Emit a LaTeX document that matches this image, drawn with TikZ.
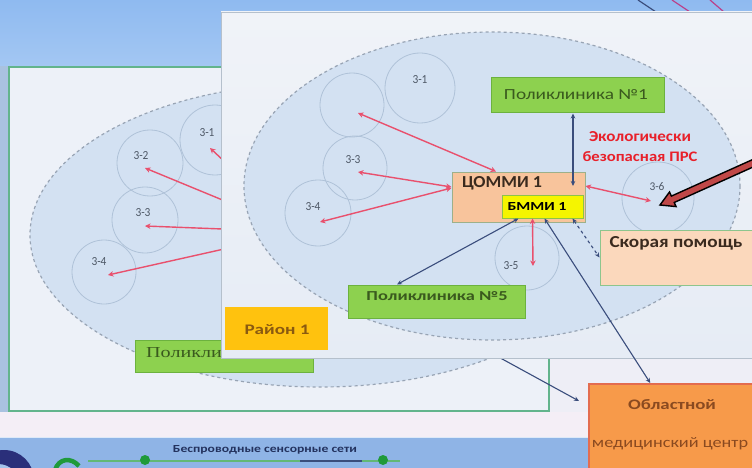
\documentclass[tikz,border=0pt]{standalone}
\usepackage{fontspec}
\setmainfont{Carlito}
\newfontfamily\serifcyr{Liberation Serif}
\usetikzlibrary{arrows.meta,calc}
\newcommand\fitw[3]{\resizebox{#1pt}{#2pt}{#3}}
\definecolor{bgblue}{HTML}{8FBAF0}
\definecolor{bgblue2}{HTML}{A3C7F3}
\definecolor{paleBg}{HTML}{EEEEF6}
\definecolor{pinkBg}{HTML}{F4EEF6}
\definecolor{stripblue}{HTML}{A9C2E0}
\definecolor{botblue}{HTML}{8FB4E6}
\definecolor{panelgreen}{HTML}{62B48C}
\definecolor{panelfill}{HTML}{EDF1F8}
\definecolor{frontfill}{HTML}{E6ECF5}
\definecolor{frontfilltop}{HTML}{F0F3F8}
\definecolor{frontline}{HTML}{B5C0CC}
\definecolor{ellfill}{HTML}{D3E1F2}
\definecolor{elline}{HTML}{98A4B4}
\definecolor{zoneline}{HTML}{AFC2D8}
\definecolor{labgray}{HTML}{4E5866}
\definecolor{greenfill}{HTML}{8DD14F}
\definecolor{greenline}{HTML}{6CB23E}
\definecolor{greentext}{HTML}{3A5A1E}
\definecolor{commifill}{HTML}{F8C49C}
\definecolor{commiline}{HTML}{9DB08A}
\definecolor{bmmifill}{HTML}{F5F500}
\definecolor{bmmiline}{HTML}{8CC34A}
\definecolor{skorfill}{HTML}{FBD8BC}
\definecolor{skorline}{HTML}{8DC58D}
\definecolor{darktext}{HTML}{3A2A1E}
\definecolor{raionfill}{HTML}{FFC20E}
\definecolor{raiontext}{HTML}{8A5A10}
\definecolor{oblfill}{HTML}{F79A4A}
\definecolor{oblline}{HTML}{E36C4F}
\definecolor{obltext}{HTML}{8A4A20}
\definecolor{ecored}{HTML}{E8202A}
\definecolor{redline}{HTML}{E9506D}
\definecolor{navy}{HTML}{3A4D7C}
\definecolor{titlenavy}{HTML}{23325E}
\definecolor{logonavy}{HTML}{2A2F7A}
\definecolor{deco}{HTML}{1F9A3A}
\definecolor{bigarrow}{HTML}{C04848}
\begin{document}
\begin{tikzpicture}[x=1pt,y=-1pt,
  zone/.style={circle,draw=zoneline,line width=0.8pt,inner sep=0pt},
  zlab/.style={inner sep=0pt,text=labgray},
  gbox/.style={rectangle,draw=greenline,fill=greenfill,line width=1pt,inner sep=0pt},
  txt/.style={inner sep=0pt},
  ell/.style={draw=elline,fill=ellfill,line width=1.2pt,dash pattern=on 3pt off 3pt},
  redl/.style={draw=redline,line width=1.4pt,>={Stealth[length=5.5pt,width=5.5pt]},<->},
  redend/.style={draw=redline,line width=1.4pt,>={Stealth[length=5.5pt,width=5.5pt]},<-},
  navl/.style={draw=navy,line width=1.1pt,>={Stealth[length=5pt,width=4.5pt]},<->},
  navend/.style={draw=navy,line width=1.1pt,>={Stealth[length=5pt,width=4.5pt]},->}]
\useasboundingbox (0,0) rectangle (752,468);
\clip (0,0) rectangle (752,468);
% ---------- background ----------
\fill[paleBg] (0,0) rectangle (752,468);
\shade[top color=bgblue, bottom color=bgblue2] (0,0) rectangle (752,66);
\fill[stripblue] (0,66) rectangle (8,420);
\fill[pinkBg] (0,412) rectangle (752,437);
\fill[botblue] (0,437) rectangle (752,468);
\draw[white!70!botblue, line width=1pt] (0,437.5) -- (752,437.5);
\fill[logonavy] (4,480) circle [radius=30];
\fill[botblue!80!white] (-2,486) circle [radius=22];
\node[txt, text=titlenavy] (btitle) at (265,450) {\fitw{184}{7}{\bfseries Беспроводные сенсорные сети}};
\draw[deco!70!white, line width=1.5pt] (88,461) -- (300,461);
\draw[navy, line width=1.2pt] (300,461) -- (362,461);
\draw[deco!70!white, line width=1.5pt] (362,461) -- (400,461);
\fill[deco] (145,460) circle [radius=5];
\fill[deco] (383,460) circle [radius=5];
\draw[deco, line width=4.5pt] (55,470) .. controls (59,458) and (71,457) .. (79,466);
\draw[navy, line width=1.2pt] (638,0) -- (656,12);
\draw[redline!80!blue, line width=1.2pt] (672,0) -- (690,12);
\draw[redline!80!blue, line width=1.2pt] (710,0) -- (724,12);
% ---------- back panel ----------
\draw[draw=panelgreen, line width=2pt, fill=panelfill] (9,67) rectangle (549,411);
\begin{scope}
  \clip (10,68) rectangle (548,410);
  \draw[ell] (320,235) ellipse [x radius=290, y radius=152];
\end{scope}
\node[zone, minimum size=70pt] (l31) at (215,140) {};
\node[zone, minimum size=66pt] (l32) at (150,163) {};
\node[zone, minimum size=66pt] (l33) at (145,220) {};
\node[zone, minimum size=64pt] (l34) at (104,272) {};
\node[zlab] (l31t) at (207,133) {\fitw{15}{8}{3-1}};
\node[zlab] (l32t) at (141,156) {\fitw{15}{8}{3-2}};
\node[zlab] (l33t) at (143,213) {\fitw{15}{8}{3-3}};
\node[zlab] (l34t) at (99,262) {\fitw{15}{8}{3-4}};
\coordinate (ld31) at (210,148);
\coordinate (ld32) at (145,168);
\coordinate (ld33) at (145,226);
\coordinate (ld34) at (108,275);
\coordinate (lhub) at (300,232);
\coordinate (lbmmi) at (440,325);
\coordinate (lend) at (579,401);
\draw[redend] (ld31) -- (lhub);
\draw[redend] (ld32) -- (lhub);
\draw[redend] (ld33) -- (lhub);
\draw[redend] (ld34) -- (lhub);
\node[gbox, minimum width=178pt, minimum height=32pt] (lpol) at (224,356) {};
\node[txt, anchor=west, text=greentext] (lpolt) at (146,353) {\fitw{150}{10}{\serifcyr Поликлиника №5}};
\draw[navend] (lbmmi) -- (lend);
% ---------- front panel ----------
\shade[top color=frontfilltop, bottom color=frontfill] (221,12) rectangle (760,358);
\draw[frontline, line width=0.8pt] (760,12) -- (221,12) -- (221,358) -- (760,358);
\begin{scope}
  \clip (222,13) rectangle (760,357);
  \draw[ell] (492,186) ellipse [x radius=248, y radius=154];
\end{scope}
\node[zone, minimum size=64pt] (fA) at (352,105) {};
\node[zone, minimum size=70pt] (f31) at (420,88) {};
\node[zone, minimum size=64pt] (f33) at (355,168) {};
\node[zone, minimum size=66pt] (f34) at (318,213) {};
\node[zone, minimum size=64pt] (f35) at (527,258) {};
\node[zone, minimum size=72pt] (f36) at (658,198) {};
\node[zlab] (f31t) at (420,80) {\fitw{15}{8}{3-1}};
\node[zlab] (f33t) at (353,160) {\fitw{15}{8}{3-3}};
\node[zlab] (f34t) at (313,207) {\fitw{15}{8}{3-4}};
\node[zlab] (f35t) at (511,266) {\fitw{15}{8}{3-5}};
\node[zlab] (f36t) at (657,187) {\fitw{15}{8}{3-6}};
\coordinate (dA) at (358,113);
\coordinate (d33) at (358,172);
\coordinate (d34) at (320,222);
\coordinate (d35) at (533,266);
\coordinate (d36) at (651,201);
% boxes
\node[gbox, minimum width=173pt, minimum height=35pt] (pol1) at (577.5,95.5) {};
\node[txt, text=greentext] (pol1t) at (576,95) {\fitw{144}{10}{Поликлиника №1}};
\node[rectangle, draw=commiline, fill=commifill, line width=1pt, inner sep=0pt, minimum width=133pt, minimum height=50pt] (commi) at (518.5,197) {};
\node[txt, text=darktext] (commit) at (502,183) {\fitw{80}{11}{\bfseries ЦОММИ 1}};
\node[rectangle, draw=bmmiline, fill=bmmifill, line width=1pt, inner sep=0pt, minimum width=81pt, minimum height=23pt] (bmmi) at (542.5,206.5) {};
\node[txt, text=black] (bmmit) at (537,206) {\fitw{59}{8}{\bfseries БММИ 1}};
\node[txt, text=ecored] (eco1) at (640,137) {\fitw{102}{10}{\bfseries Экологически}};
\node[txt, text=ecored] (eco2) at (640,157) {\fitw{115}{10}{\bfseries безопасная ПРС}};
\node[rectangle, draw=skorline, fill=skorfill, line width=1pt, inner sep=0pt, minimum width=160pt, minimum height=55pt] (skor) at (680,257.5) {};
\node[txt, text=darktext] (skort) at (676,243) {\fitw{133}{11}{\bfseries Скорая помощь}};
\node[gbox, minimum width=177pt, minimum height=33pt] (pol5) at (436.5,301.5) {};
\node[txt, text=greentext] (pol5t) at (437,296) {\fitw{141}{9}{\bfseries Поликлиника №5}};
% connectors
\draw[redl] (dA) -- ([xshift=-22.5pt]commi.north);
\draw[redl] (d33) -- ([yshift=10pt]commi.west);
\draw[redl] (d34) -- ([yshift=9pt]commi.west);
\draw[redl] (d36) -- ([yshift=11pt]commi.east);
\draw[redl] ([xshift=-10pt]bmmi.south) -- (d35);
\draw[navl] ([xshift=-4.5pt]pol1.south) -- ([xshift=54.5pt,yshift=11pt]commi.center);
\draw[navl] ([xshift=-24pt]bmmi.south) -- ([xshift=-39.5pt]pol5.north);
\draw[navl,dashed] ([xshift=30pt]bmmi.south) -- (skor.west);
% district box
\node[rectangle, fill=raionfill, inner sep=0pt, minimum width=103pt, minimum height=43pt] (raion) at (276.5,328.5) {};
\node[txt, text=raiontext] (raiont) at (277,330) {\fitw{65}{10}{\bfseries Район 1}};
% regional centre
\node[rectangle, draw=oblline, fill=oblfill, line width=1.5pt, inner sep=0pt, anchor=north west, minimum width=175pt, minimum height=95pt] (obl) at (588,383) {};
\node[txt, text=obltext] (oblt1) at (672,405) {\fitw{88}{10}{\bfseries Областной}};
\node[txt, text=obltext] (oblt2) at (670,444) {\fitw{156}{10}{медицинский центр}};
\draw[navl] ([xshift=2pt]bmmi.south) -- ([xshift=-26pt]obl.north);
% big block arrow to 3-6
\filldraw[fill=bigarrow, draw=black, line width=1.4pt, line join=miter]
  (780.0,154.9) -- (674.2,202.5) -- (676.1,206.6) -- (660,205) -- (669.5,192.0) -- (671.4,196.1) -- (777.2,148.5) -- cycle;
\end{tikzpicture}
\end{document}
